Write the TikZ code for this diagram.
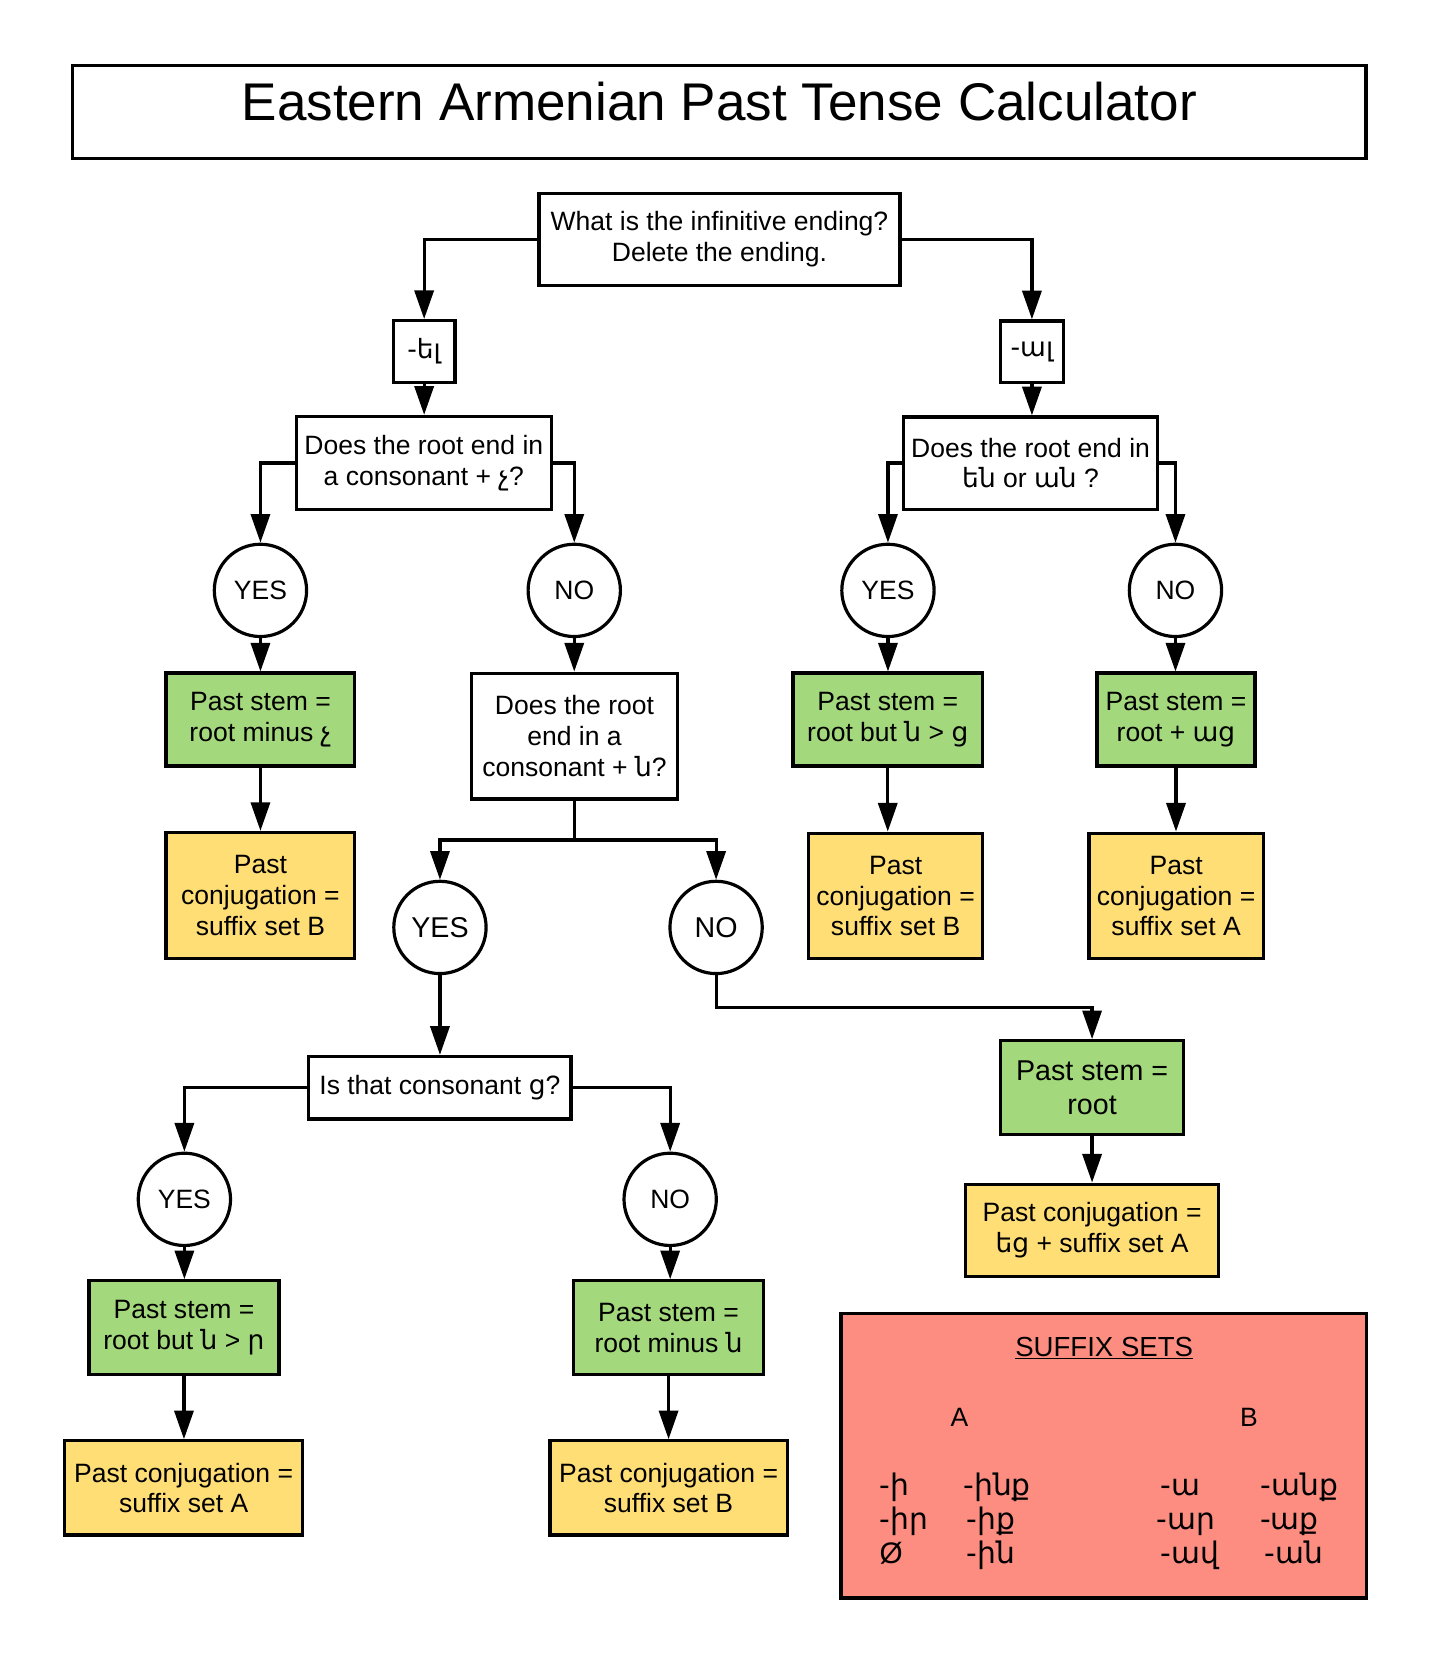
\documentclass[tikz,border=0pt]{standalone}
\usepackage{fontspec}
\setmainfont{Liberation Sans}
\newfontfamily\arm[Scale=1.0]{DejaVu Sans}
\usetikzlibrary{arrows.meta}
\definecolor{gfill}{HTML}{A3D87C}
\definecolor{yfill}{HTML}{FFDE75}
\definecolor{rfill}{HTML}{FC8D80}
\newcommand{\hy}[1]{{\arm #1}}
\begin{document}
\begin{tikzpicture}[x=1pt,y=-1pt,
  base/.style={inner sep=0pt, align=center, font=\fontsize{25}{29}\selectfont},
  boxst/.style={base, draw, line width=3pt},
  gbox/.style={boxst, fill=gfill},
  ybox/.style={boxst, fill=yfill},
  circst/.style={base, draw, circle, line width=3pt, minimum size=87pt},
  big/.style={font=\fontsize{27}{32}\selectfont},
  conn/.style={line width=3pt, -{Triangle[length=27pt,width=18pt]}},
  lab/.style={inner sep=0pt, font=\fontsize{25}{29}\selectfont},
  sfxrow/.style={inner sep=0pt, anchor=base west, font=\fontsize{28}{32}\selectfont}
]
\useasboundingbox (0,0) rectangle (1350,1568.5);
% title
\node[boxst, minimum width=1219pt, minimum height=88pt, text height=36pt, text depth=19pt, font=\fontsize{50}{59}\selectfont] (title) at (678,105.5) {Eastern Armenian Past Tense Calculator};
% top question
\node[boxst, minimum width=340.4pt, minimum height=86.8pt] (q0) at (678.2,225.6) {What is the infinitive ending?\\Delete the ending.};
\node[boxst, minimum width=58.2pt, minimum height=58.2pt] (el) at (399.8,331.3) {\hy{-ել}};
\node[boxst, minimum width=59.2pt, minimum height=58pt] (al) at (972.7,331.5) {\hy{-ալ}};
\node[boxst, minimum width=240pt, minimum height=88pt] (q1) at (399.5,436.5) {Does the root end in\\a consonant + \hy{չ}?};
\node[boxst, minimum width=239pt, minimum height=87pt] (q2) at (971.4,436.5) {Does the root end in\\\hy{են} or \hy{ան} ?};
% first circles
\node[circst] (yes1) at (245.5,556.5) {YES};
\node[circst] (no1) at (541.3,556.5) {NO};
\node[circst] (yes1r) at (837,556.5) {YES};
\node[circst] (no1r) at (1108,556.5) {NO};
% second row boxes
\node[gbox, minimum width=178pt, minimum height=87.5pt] (g1) at (245.5,678.2) {Past stem =\\root minus \hy{չ}};
\node[boxst, minimum width=194pt, minimum height=118.6pt] (q3) at (541.5,693.8) {Does the root\\end in a\\consonant + \hy{ն}?};
\node[gbox, minimum width=178.7pt, minimum height=87.5pt] (gr1) at (836.8,678.2) {Past stem =\\root but \hy{ն} > \hy{ց}};
\node[gbox, minimum width=149pt, minimum height=87.5pt] (gr2) at (1108.5,678.2) {Past stem =\\root + \hy{աց}};
\node[ybox, minimum width=178pt, minimum height=118.6pt] (y1) at (245.5,844) {Past\\conjugation =\\suffix set B};
\node[ybox, minimum width=163.9pt, minimum height=118.5pt] (yr1) at (844.2,844.6) {Past\\conjugation =\\suffix set B};
\node[ybox, minimum width=164.2pt, minimum height=118.5pt] (yr2) at (1108.6,844.6) {Past\\conjugation =\\suffix set A};
% middle circles
\node[circst, big] (yes2) at (414.7,874.2) {YES};
\node[circst, big] (no2) at (675,874.2) {NO};
\node[boxst, minimum width=247.4pt, minimum height=59pt] (q4) at (414.6,1025.3) {Is that consonant \hy{ց}?};
\node[gbox, big, minimum width=172pt, minimum height=88.2pt] (groot) at (1029.4,1025.1) {Past stem =\\root};
\node[ybox, minimum width=238pt, minimum height=87.1pt] (yroot) at (1029.4,1159.7) {Past conjugation =\\\hy{եց} + suffix set A};
% lower circles
\node[circst] (yes3) at (173.8,1130.5) {YES};
\node[circst] (no3) at (631.7,1130.5) {NO};
\node[gbox, minimum width=179.1pt, minimum height=88.7pt] (g3l) at (173.4,1251.6) {Past stem =\\root but \hy{ն} > \hy{ր}};
\node[gbox, minimum width=178.7pt, minimum height=88.7pt] (g3r) at (630.2,1251.6) {Past stem =\\root minus \hy{ն}};
\node[ybox, minimum width=224.6pt, minimum height=88.8pt] (y3l) at (173.1,1402.5) {Past conjugation =\\suffix set A};
\node[ybox, minimum width=223.7pt, minimum height=88.8pt] (y3r) at (630.2,1402.5) {Past conjugation =\\suffix set B};
% suffix sets
\node[boxst, fill=rfill, line width=3.5pt, minimum width=495pt, minimum height=268pt] (sfx) at (1040.5,1372.2) {};
\node[lab, anchor=base, font=\fontsize{26}{31}\selectfont] (sfxt) at (1040.8,1279) {\underline{SUFFIX SETS}};
\node[lab, anchor=base] (sa) at (904.4,1345) {A};
\node[lab, anchor=base] (sb) at (1177.2,1345) {B};
\node[sfxrow] (a11) at (829,1410) {\hy{-ի}};
\node[sfxrow] (a12) at (908,1410) {\hy{-ինք}};
\node[sfxrow] (a21) at (829,1442) {\hy{-իր}};
\node[sfxrow] (a22) at (911,1442) {\hy{-իք}};
\node[sfxrow] (a31) at (829,1474) {Ø};
\node[sfxrow] (a32) at (911,1474) {\hy{-ին}};
\node[sfxrow] (b11) at (1094,1410) {\hy{-ա}};
\node[sfxrow] (b12) at (1188,1410) {\hy{-անք}};
\node[sfxrow] (b21) at (1090,1442) {\hy{-ար}};
\node[sfxrow] (b22) at (1187.5,1442) {\hy{-աք}};
\node[sfxrow] (b31) at (1094,1474) {\hy{-ավ}};
\node[sfxrow] (b32) at (1192,1474) {\hy{-ան}};
% connectors
\draw[conn] (q0.west) -| (el.north);
\draw[conn] (q0.east) -| (al.north);
\draw[conn] (el.south) -- (el.south |- q1.north);
\draw[conn] (al.south) -- (al.south |- q2.north);
\draw[conn] (q1.west) -| (yes1.north);
\draw[conn] (q1.east) -| (no1.north);
\draw[conn] (q2.west) -| (yes1r.north);
\draw[conn] (q2.east) -| (no1r.north);
\draw[conn] (yes1.south) -- (yes1.south |- g1.north);
\draw[conn] (g1.south) -- (g1.south |- y1.north);
\draw[conn] (no1.south) -- (no1.south |- q3.north);
\draw[conn] (yes1r.south) -- (yes1r.south |- gr1.north);
\draw[conn] (gr1.south) -- (gr1.south |- yr1.north);
\draw[conn] (no1r.south) -- (no1r.south |- gr2.north);
\draw[conn] (gr2.south) -- (gr2.south |- yr2.north);
\coordinate (split) at (541.5,791.7);
\draw[conn] (q3.south) -- (split) -| (yes2.north);
\draw[conn] (split) -| (no2.north);
\draw[conn] (yes2.south) -- (yes2.south |- q4.north);
\coordinate (nobend) at (675,949.7);
\draw[conn] (no2.south) -- (nobend) -| (groot.north);
\draw[conn] (groot.south) -- (groot.south |- yroot.north);
\draw[conn] (q4.west) -| (yes3.north);
\draw[conn] (q4.east) -| (no3.north);
\draw[conn] (yes3.south) -- (yes3.south |- g3l.north);
\draw[conn] (g3l.south) -- (g3l.south |- y3l.north);
\draw[conn] (no3.south) -- (no3.south |- g3r.north);
\draw[conn] (g3r.south) -- (g3r.south |- y3r.north);
\end{tikzpicture}
\end{document}
